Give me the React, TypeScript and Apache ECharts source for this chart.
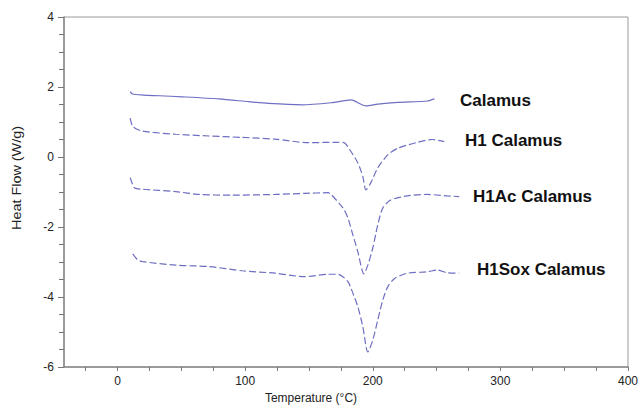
import React, { useEffect, useRef } from "react";
import * as echarts from "echarts";

const xMajorTicks = [0, 100, 200, 300, 400];
const xAllTicks = [-25, 0, 25, 50, 75, 100, 125, 150, 175, 200, 225, 250, 275, 300, 325, 350, 375, 400];

const seriesNames = ["Calamus", "H1 Calamus", "H1Ac Calamus", "H1Sox Calamus"];

const calamus: [number, number][] = [
  [9.9, 1.87], [11.7, 1.8], [20, 1.77], [32.7, 1.75], [50.6, 1.72], [79.4, 1.66], [102.7, 1.58],
  [118.3, 1.53], [144, 1.49], [167.3, 1.55], [182.9, 1.63], [194.6, 1.46], [203.9, 1.51],
  [219.5, 1.56], [242.8, 1.6], [248.2, 1.66],
];

const h1Calamus: [number, number][] = [
  [9.9, 1.11], [11.9, 0.87], [19.5, 0.74], [45.7, 0.65], [71.6, 0.6], [97.3, 0.56], [123.5, 0.51],
  [149.4, 0.41], [172.8, 0.42], [177.4, 0.41], [182.1, 0.2], [188.3, -0.17], [192.2, -0.56],
  [194.6, -0.94], [198.4, -0.74], [203.9, -0.31], [211.7, 0.06], [219.5, 0.25], [235, 0.42],
  [246.7, 0.5], [256, 0.44],
];

const h1AcCalamus: [number, number][] = [
  [9.9, -0.59], [13.2, -0.88], [19.7, -0.92], [45.7, -0.99], [63.8, -1.07], [89.5, -1.09],
  [123.5, -1.07], [146.8, -1.04], [165, -1.02], [167.3, -1.07], [176.7, -1.46], [180.5, -1.74],
  [184.4, -2.23], [188.3, -2.71], [193, -3.34], [196.1, -3.09], [200, -2.6], [203.9, -1.94],
  [207.8, -1.46], [214, -1.23], [227.2, -1.11], [242.8, -1.07], [258.4, -1.11], [267.7, -1.13],
];

const h1SoxCalamus: [number, number][] = [
  [11.9, -2.77], [15.8, -2.94], [19.7, -2.99], [45.7, -3.09], [71.6, -3.13], [97.5, -3.25],
  [123.5, -3.32], [146.8, -3.42], [165, -3.35], [172.8, -3.35], [180.5, -3.56], [184.4, -3.89],
  [188.3, -4.28], [192.2, -4.85], [196.1, -5.57], [200, -5.23], [203.9, -4.66], [207.8, -4.09],
  [211.7, -3.71], [217.1, -3.47], [227.2, -3.32], [242.8, -3.28], [250.6, -3.23], [258.4, -3.31],
  [267.7, -3.32],
];

const allData = [calamus, h1Calamus, h1AcCalamus, h1SoxCalamus];
const labelPos: [number, number][] = [[460, 100], [465, 140], [473, 196], [477, 269]];

const FONT = "'Liberation Sans', Arial, sans-serif";
const LINE = "#6e6ec2";

export default function App() {
  const ref = useRef<HTMLDivElement>(null);
  useEffect(() => {
    if (!ref.current) return;
    const chart = echarts.init(ref.current, undefined, { renderer: "svg" });
    chart.setOption({
      animation: false,
      grid: { left: 64, right: 9, top: 17, bottom: 38, show: true, borderColor: "#9a9a9a", borderWidth: 1 },
      xAxis: {
        type: "value",
        min: -42,
        max: 400,
        splitLine: { show: false },
        axisLine: { onZero: false, lineStyle: { color: "#8a8a8a", width: 1.5 } },
        axisTick: { show: true, length: 4, customValues: xAllTicks, lineStyle: { color: "#777" } },
        axisLabel: { customValues: xMajorTicks, color: "#222", fontSize: 12, fontFamily: FONT, margin: 8 },
      },
      yAxis: {
        type: "value",
        min: -6,
        max: 4,
        interval: 2,
        splitLine: { show: false },
        axisLine: { show: true, onZero: false, lineStyle: { color: "#8a8a8a", width: 1.5 } },
        axisTick: { show: true, length: 6, lineStyle: { color: "#777" } },
        minorTick: { show: true, splitNumber: 4, length: 5, lineStyle: { color: "#777" } },
        axisLabel: { color: "#222", fontSize: 12, fontFamily: FONT, margin: 10 },
      },
      series: allData.map((d, i) => ({
        name: seriesNames[i],
        type: "line",
        data: d,
        showSymbol: false,
        smooth: 0.25,
        lineStyle: { color: LINE, width: 1.2, type: i === 0 ? "solid" : [7, 3] },
      })),
      graphic: [
        ...seriesNames.map((n, i) => ({
          type: "text",
          x: labelPos[i][0],
          y: labelPos[i][1],
          style: {
            text: n,
            font: `bold 17px ${FONT}`,
            fill: "#111",
            textVerticalAlign: "middle",
            textAlign: "left",
          },
        })),
        {
          type: "text",
          x: 17,
          y: 178,
          rotation: Math.PI / 2,
          scaleX: 1.2,
          style: {
            text: "Heat Flow (W/g)",
            font: `12px ${FONT}`,
            fill: "#222",
            textAlign: "center",
            textVerticalAlign: "middle",
          },
        },
        {
          type: "text",
          x: 311,
          y: 398,
          style: {
            text: "Temperature (°C)",
            font: `12px ${FONT}`,
            fill: "#222",
            textAlign: "center",
            textVerticalAlign: "middle",
          },
        },
      ],
    });
    return () => chart.dispose();
  }, []);
  return <div ref={ref} style={{ width: 641, height: 405, position: "absolute", left: 0, top: 0 }} />;
}
